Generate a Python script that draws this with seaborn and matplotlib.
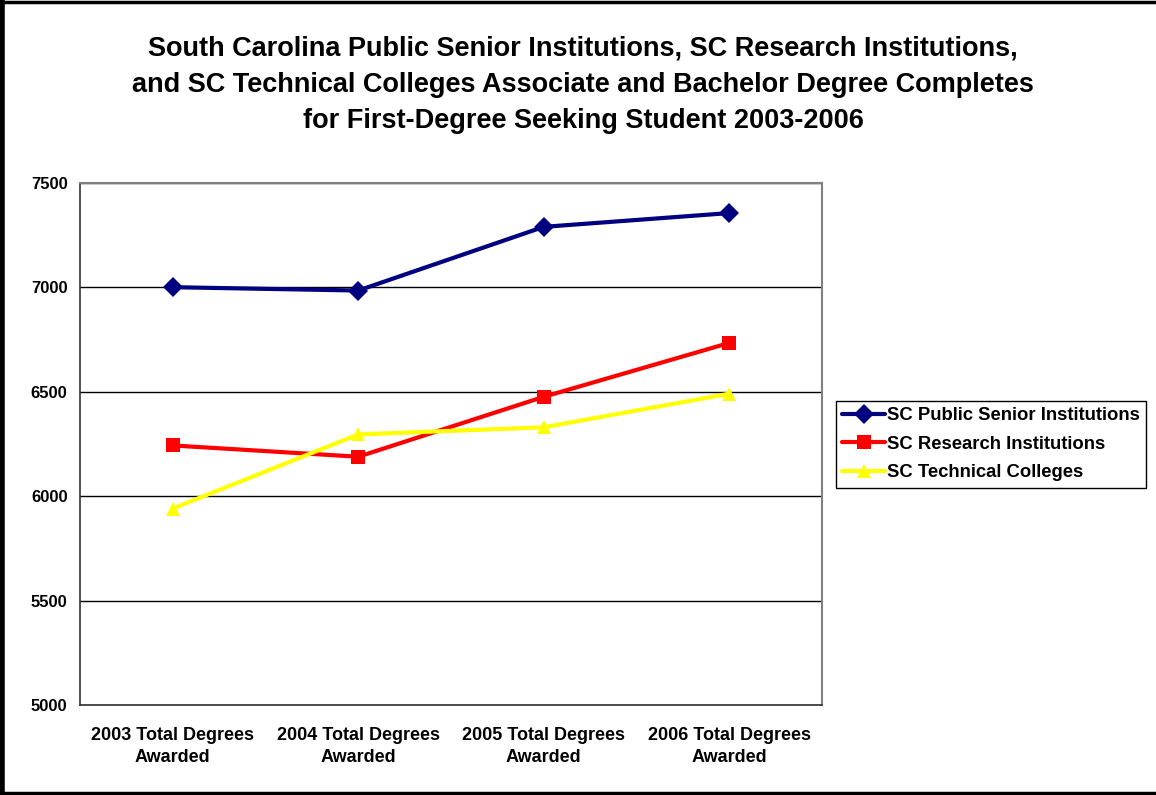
import matplotlib
matplotlib.use("Agg")
import matplotlib.pyplot as plt
from matplotlib.lines import Line2D
import pandas as pd
import seaborn as sns

years = ["2003 Total Degrees\nAwarded", "2004 Total Degrees\nAwarded",
         "2005 Total Degrees\nAwarded", "2006 Total Degrees\nAwarded"]
public_senior = [7001, 6985, 7290, 7356]
research = [6243, 6189, 6476, 6734]
technical = [5941, 6296, 6330, 6491]

series_names = ["SC Public Senior Institutions", "SC Research Institutions", "SC Technical Colleges"]
series_colors = ["#000080", "#FF0000", "#FFFF00"]
series_markers = ["D", "s", "^"]

rows = []
for name, vals in zip(series_names, [public_senior, research, technical]):
    for i, v in enumerate(vals):
        rows.append({"x": i, "value": v, "series": name})
df = pd.DataFrame(rows)

sns.set_style("white")
plt.rcParams["font.family"] = ["Liberation Sans", "DejaVu Sans"]
plt.rcParams["font.weight"] = "bold"
plt.rcParams["text.color"] = "black"
plt.rcParams["xtick.color"] = "black"
plt.rcParams["ytick.color"] = "black"
plt.rcParams["xtick.labelcolor"] = "black"
plt.rcParams["ytick.labelcolor"] = "black"

fig = plt.figure(figsize=(11.56, 7.95), dpi=100)
ax = fig.add_axes([80 / 1156, 1 - 705 / 795, (822 - 80) / 1156, (705 - 183) / 795])

sns.lineplot(data=df, x="x", y="value", hue="series", style="series",
             palette=dict(zip(series_names, series_colors)),
             markers=dict(zip(series_names, series_markers)),
             dashes=False, linewidth=3, markersize=10,
             markeredgewidth=0, ax=ax, legend=False)

ax.set_xlim(-0.5, 3.5)
ax.set_ylim(5000, 7500)
ax.set_yticks([5000, 5500, 6000, 6500, 7000, 7500])
ax.yaxis.grid(True, color="black", linewidth=1)
ax.set_xticks([-0.5, 0.5, 1.5, 2.5, 3.5])
ax.set_xticklabels([])
ax.set_xticks([0, 1, 2, 3], minor=True)
ax.set_xticklabels(years, minor=True, fontsize=13, fontweight="bold", linespacing=1.4)
ax.tick_params(axis="x", which="major", length=6, width=1, color="#333333", direction="out")
ax.tick_params(axis="x", which="minor", length=0, pad=16)
ax.tick_params(axis="y", length=6, width=1, color="#333333", direction="out", labelsize=12, pad=3)
for lab in ax.get_yticklabels():
    lab.set_fontweight("bold")
ax.set_xlabel("")
ax.set_ylabel("")
for side in ["top", "right"]:
    ax.spines[side].set_color("#808080")
    ax.spines[side].set_linewidth(1.5)
for side in ["left", "bottom"]:
    ax.spines[side].set_color("#333333")
    ax.spines[side].set_linewidth(1.2)

handles = [Line2D([], [], color=c, marker=m, linewidth=3, markersize=10, markeredgewidth=0)
           for c, m in zip(series_colors, series_markers)]
leg = fig.legend(handles, series_names, loc="upper left",
                 bbox_to_anchor=(836 / 1156, 1 - 401 / 795),
                 frameon=True, fancybox=False, framealpha=1, edgecolor="black",
                 prop={"weight": "bold", "size": 13.3}, handlelength=2.3,
                 handletextpad=0.1, borderpad=0.35, labelspacing=0.62, borderaxespad=0)
leg.get_frame().set_linewidth(1)

fig.suptitle("South Carolina Public Senior Institutions, SC Research Institutions,\n"
             "and SC Technical Colleges Associate and Bachelor Degree Completes\n"
             "for First-Degree Seeking Student 2003-2006",
             x=583 / 1156, y=1 - 36 / 795, va="top", fontsize=19.5, fontweight="bold",
             linespacing=1.5)

# outer border of the chart
fig.add_artist(Line2D([0.002, 0.002], [0, 1], transform=fig.transFigure, color="black", linewidth=4))
fig.add_artist(Line2D([0, 1], [0.998, 0.998], transform=fig.transFigure, color="black", linewidth=2.5))
fig.add_artist(Line2D([0, 1], [0.003, 0.003], transform=fig.transFigure, color="black", linewidth=2.5))

fig.savefig("out.png", dpi=100)
